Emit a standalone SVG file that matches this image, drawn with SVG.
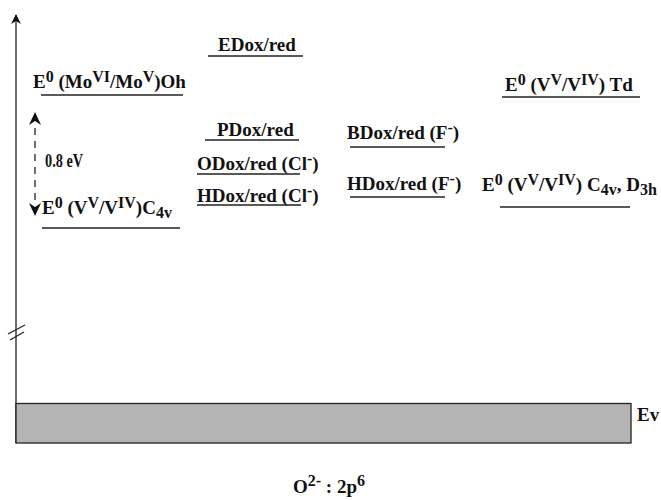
<svg xmlns="http://www.w3.org/2000/svg" width="661" height="500" viewBox="0 0 661 500">
<style>
text{font-family:"Liberation Serif","Times New Roman",serif;font-weight:bold;font-size:19px;fill:#111}
.sup{font-size:16px}
.sub{font-size:16px}
.lv{stroke:#222;stroke-width:1.6;fill:none}
.ax{stroke:#222;stroke-width:1.3;fill:none}
</style>
<defs>
<marker id="ah" viewBox="0 0 10 10" refX="9" refY="5" markerWidth="10" markerHeight="10" markerUnits="userSpaceOnUse" orient="auto">
<path d="M0,0 L10,5 L0,10 L3,5 Z" fill="#111"/>
</marker>
</defs>
<g id="axis">
<line class="ax" x1="16" y1="443" x2="16" y2="15" marker-end="url(#ah)"/>
<line class="ax" x1="8" y1="334" x2="25" y2="325"/>
<line class="ax" x1="10" y1="340" x2="24" y2="332"/>
</g>
<g id="valence-band">
<rect x="16" y="403.5" width="615" height="39.5" fill="#b4b4b4" stroke="#222" stroke-width="1.3"/>
<text x="637" y="421">Ev</text>
</g>
<g id="connectors">
<line x1="35" y1="200" x2="35" y2="124" stroke="#222" stroke-width="1.3" stroke-dasharray="7,6"/>
<path d="M35,112 L41,125 L35,121 L29,125 Z" fill="#111"/>
<path d="M35,216 L41,203 L35,207 L29,203 Z" fill="#111"/>
</g>
<g id="gap-label"><text x="45" y="167" textLength="38" lengthAdjust="spacingAndGlyphs" style="font-size:18px">0.8 eV</text></g>
<g id="mo-oh">
<text x="33" y="88">E<tspan class="sup" dy="-6">0</tspan><tspan dy="6"> (Mo</tspan><tspan class="sup" dy="-6">VI</tspan><tspan dy="6">/Mo</tspan><tspan class="sup" dy="-6">V</tspan><tspan dy="6">)Oh</tspan></text>
<line class="lv" x1="41" y1="95" x2="183" y2="95"/>
</g>
<g id="v-c4v-left">
<text x="42" y="214">E<tspan class="sup" dy="-6">0</tspan><tspan dy="6"> (V</tspan><tspan class="sup" dy="-6">V</tspan><tspan dy="6">/V</tspan><tspan class="sup" dy="-6">IV</tspan><tspan dy="6">)C</tspan><tspan class="sub" dy="4">4v</tspan></text>
<line class="lv" x1="42" y1="228" x2="180" y2="228"/>
</g>
<g id="edox">
<text x="218" y="51">EDox/red</text>
<line class="lv" x1="208" y1="56" x2="303" y2="56"/>
</g>
<g id="pdox">
<text x="217" y="136">PDox/red</text>
<line class="lv" x1="205" y1="140" x2="299" y2="140"/>
</g>
<g id="odox-cl">
<text x="197" y="170">ODox/red (Cl<tspan class="sup" dy="-6">-</tspan><tspan dy="6">)</tspan></text>
<line class="lv" x1="197" y1="174" x2="300" y2="174"/>
</g>
<g id="hdox-cl">
<text x="197" y="202">HDox/red (Cl<tspan class="sup" dy="-6">-</tspan><tspan dy="6">)</tspan></text>
<line class="lv" x1="197" y1="205" x2="301" y2="205"/>
</g>
<g id="bdox-f">
<text x="347" y="139">BDox/red (F<tspan class="sup" dy="-6">-</tspan><tspan dy="6">)</tspan></text>
<line class="lv" x1="350" y1="147" x2="445" y2="147"/>
</g>
<g id="hdox-f">
<text x="347" y="190">HDox/red (F<tspan class="sup" dy="-6">-</tspan><tspan dy="6">)</tspan></text>
<line class="lv" x1="350" y1="197" x2="445" y2="197"/>
</g>
<g id="v-td">
<text x="505" y="91">E<tspan class="sup" dy="-6">0</tspan><tspan dy="6"> (V</tspan><tspan class="sup" dy="-6">V</tspan><tspan dy="6">/V</tspan><tspan class="sup" dy="-6">IV</tspan><tspan dy="6">) Td</tspan></text>
<line class="lv" x1="502" y1="97" x2="640" y2="97"/>
</g>
<g id="v-c4v-d3h">
<text x="482" y="191">E<tspan class="sup" dy="-6">0</tspan><tspan dy="6"> (V</tspan><tspan class="sup" dy="-6">V</tspan><tspan dy="6">/V</tspan><tspan class="sup" dy="-6">IV</tspan><tspan dy="6">) C</tspan><tspan class="sub" dy="4">4v</tspan><tspan dy="-4">, D</tspan><tspan class="sub" dy="4">3h</tspan></text>
<line class="lv" x1="500" y1="207" x2="630" y2="207"/>
</g>
<g id="o2-label">
<text x="293" y="493">O<tspan class="sup" dy="-7">2-</tspan><tspan dy="7"> : 2p</tspan><tspan class="sup" dy="-7">6</tspan></text>
</g>
</svg>
